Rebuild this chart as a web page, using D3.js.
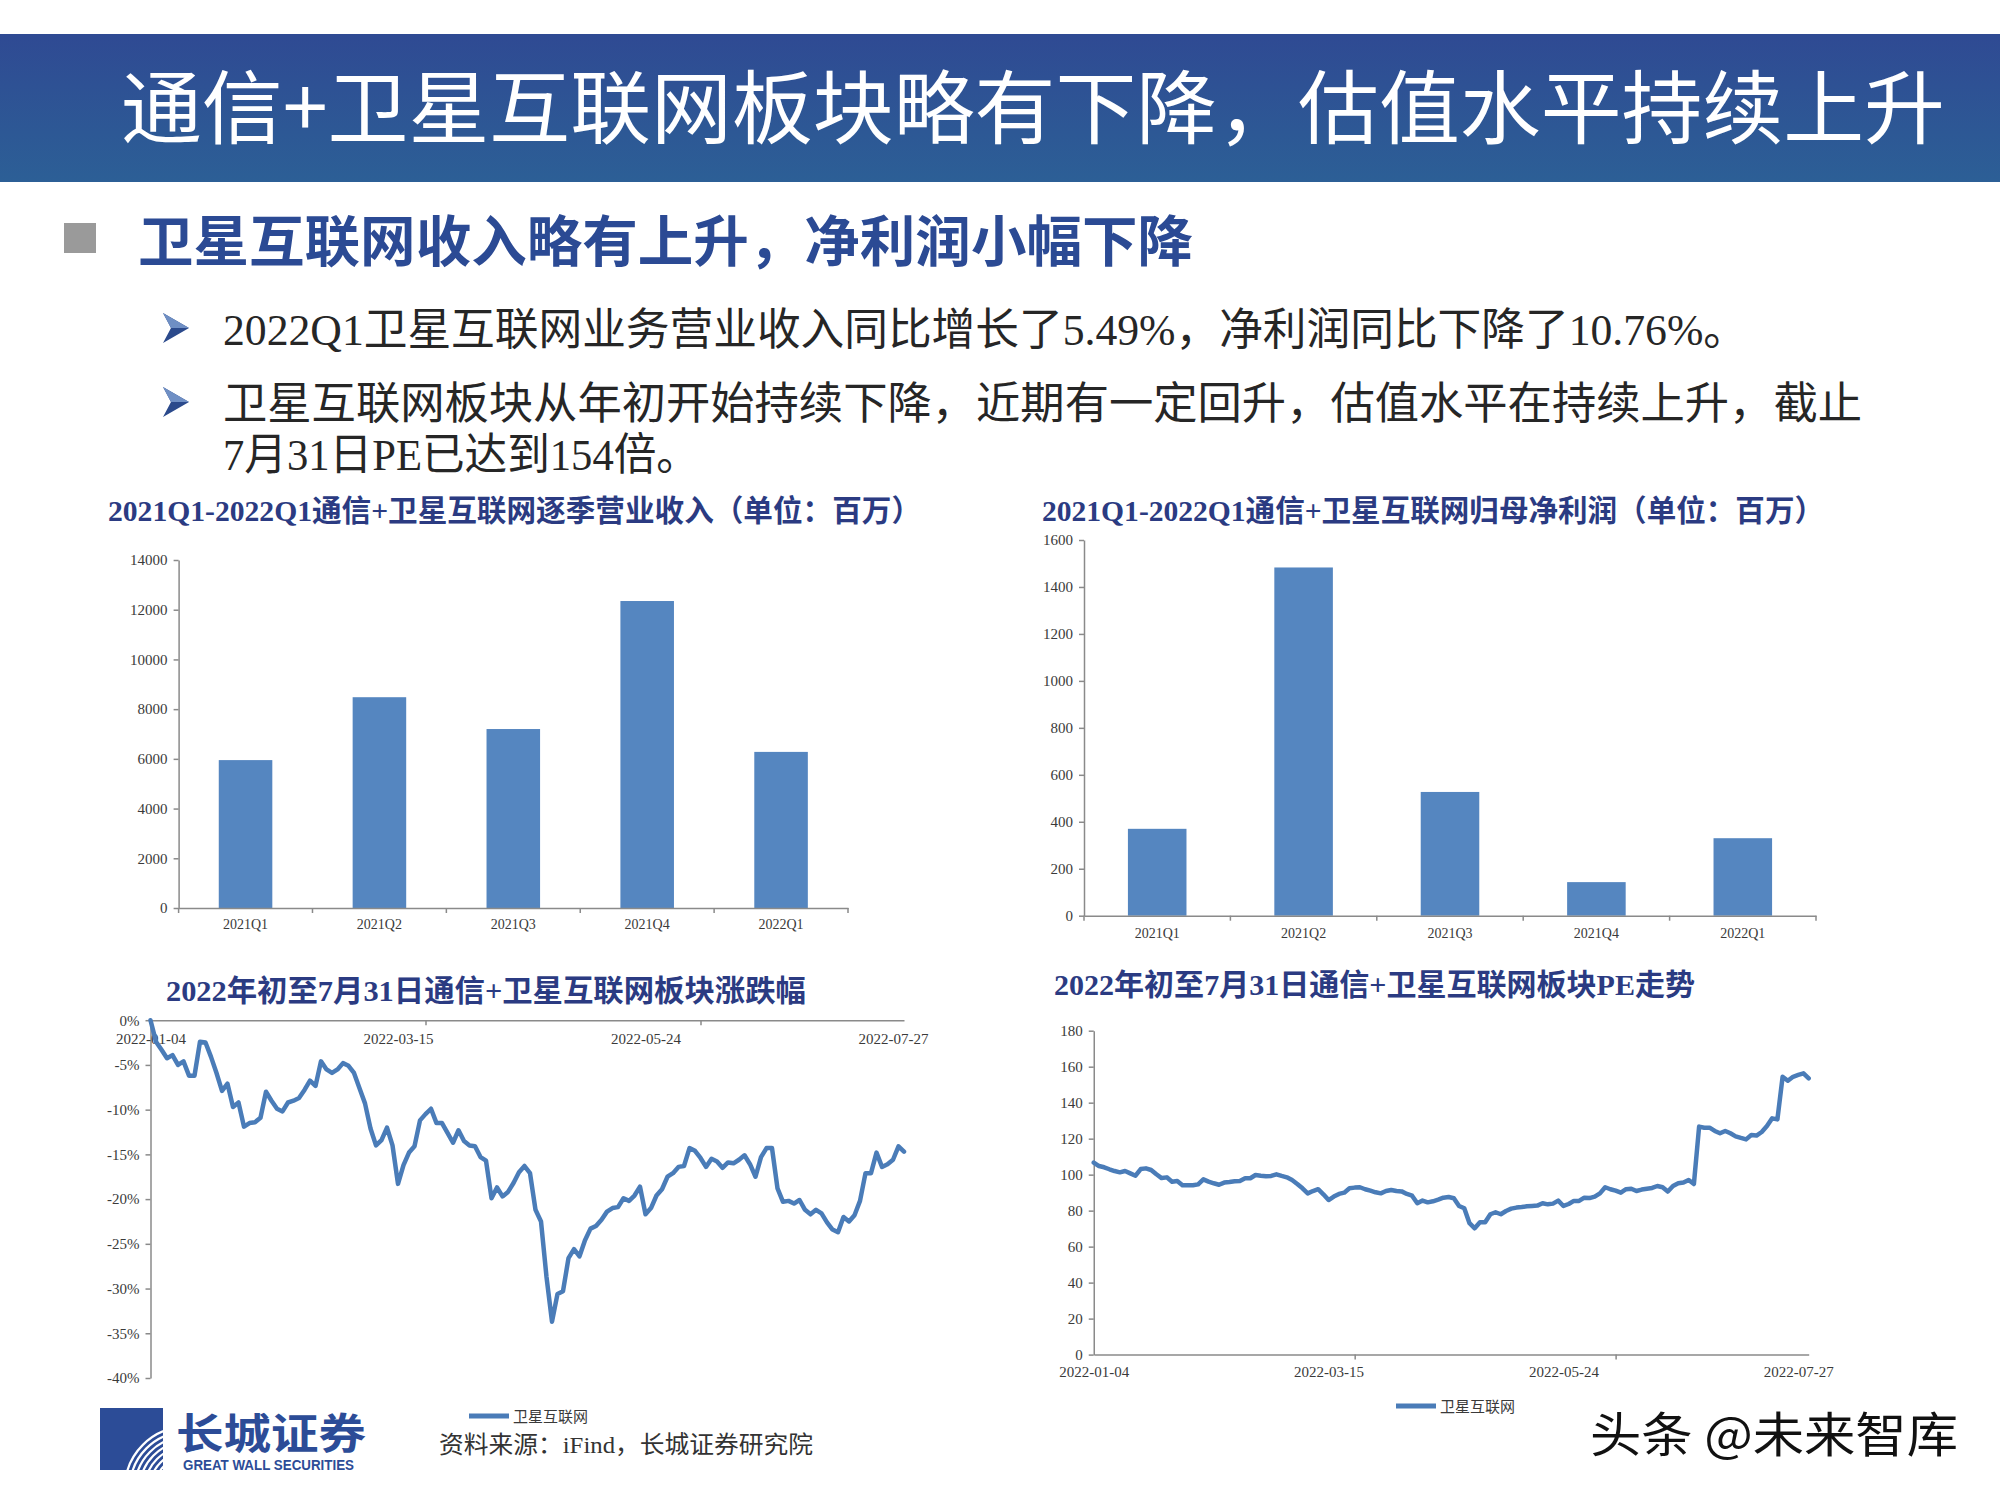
<!DOCTYPE html>
<html>
<head>
<meta charset="utf-8">
<script src="https://cdn.jsdelivr.net/npm/d3@7"></script>
<style>
body { margin: 0; background: #fff; }
</style>
</head>
<body>
<script>
// ---- data ----
const quarters = ["2021Q1", "2021Q2", "2021Q3", "2021Q4", "2022Q1"];
const revenue = [5950, 8480, 7200, 12350, 6280];      // 百万
const netProfit = [370, 1483, 527, 143, 330];         // 百万
const revenueTicks = [0, 2000, 4000, 6000, 8000, 10000, 12000, 14000];
const profitTicks = [0, 200, 400, 600, 800, 1000, 1200, 1400, 1600];

// trading-day index of the date labels on the two line charts
const dateLabels = ["2022-01-04", "2022-03-15", "2022-05-24", "2022-07-27"];
const dateLabelIdx = [0, 45, 90, 135];
const dateTickIdx = [50, 100];

// 卫星互联网 板块涨跌幅 (%), 2022-01-04 .. 2022-07-29
const changePct = [
	0, -2.4, -3.3, -4.25, -3.9, -5.0, -4.6, -6.2, -6.2, -2.4,
	-2.5, -4.1, -5.9, -7.9, -7.1, -9.7, -9.2, -11.9, -11.5, -11.4,
	-10.9, -8.0, -9.0, -9.9, -10.2, -9.2, -9.0, -8.7, -7.8, -6.75,
	-7.35, -4.6, -5.5, -5.9, -5.5, -4.8, -5.1, -5.9, -7.6, -9.3,
	-12.1, -14.0, -13.4, -12.0, -14.0, -18.3, -16.2, -14.8, -14.1, -11.2,
	-10.5, -9.9, -11.5, -11.5, -12.6, -13.7, -12.3, -13.5, -14.0, -14.1,
	-15.3, -15.7, -19.9, -18.7, -19.7, -19.2, -18.2, -17.0, -16.3, -17.1,
	-21.2, -22.5, -28.7, -33.7, -30.6, -30.3, -26.6, -25.6, -26.4, -24.6,
	-23.3, -23.0, -22.3, -21.4, -21.0, -20.9, -19.9, -20.2, -19.6, -18.6,
	-21.7, -21.0, -19.6, -18.9, -17.5, -17.1, -16.4, -16.3, -14.3, -14.6,
	-15.4, -16.4, -15.5, -15.8, -16.5, -15.9, -16.0, -15.6, -15.1, -16.1,
	-17.5, -15.3, -14.3, -14.3, -18.8, -20.3, -20.2, -20.5, -20.1, -21.2,
	-21.7, -21.2, -21.6, -22.6, -23.4, -23.7, -22.0, -22.5, -21.8, -20.2,
	-17.1, -17.1, -14.8, -16.4, -16.1, -15.6, -14.1, -14.7
];
const pctTicks = [0, -5, -10, -15, -20, -25, -30, -35, -40];

// 卫星互联网 板块PE
const peValues = [
	106.7, 104.8, 104.1, 103.0, 102.0, 101.3, 102.0, 100.7, 99.4, 103.1,
	103.5, 102.6, 100.2, 98.1, 98.5, 96.1, 96.5, 94.1, 94.1, 94.1,
	94.6, 97.4, 96.1, 95.2, 94.4, 95.6, 95.9, 96.3, 96.5, 98.0,
	98.0, 99.8, 99.4, 99.1, 99.3, 100.2, 99.3, 98.5, 97.0, 94.8,
	92.4, 89.6, 90.9, 91.9, 89.1, 85.9, 87.8, 89.3, 90.0, 92.4,
	92.8, 93.0, 91.9, 91.1, 90.2, 89.6, 90.9, 91.5, 90.9, 90.7,
	89.3, 88.3, 84.1, 85.6, 84.6, 85.2, 86.1, 87.2, 87.6, 86.9,
	82.6, 81.3, 73.0, 70.2, 73.5, 73.5, 78.0, 79.1, 78.0, 79.8,
	81.1, 81.7, 82.0, 82.4, 82.6, 82.8, 84.1, 83.5, 83.9, 85.6,
	82.6, 83.7, 85.4, 85.4, 87.2, 87.0, 87.8, 89.6, 93.0, 91.9,
	91.1, 90.0, 91.9, 92.2, 90.9, 91.7, 92.2, 92.6, 93.7, 93.0,
	90.6, 93.7, 95.2, 95.6, 97.0, 94.8, 126.7, 126.1, 126.1, 124.3,
	123.0, 124.3, 123.0, 121.3, 120.4, 119.6, 122.0, 121.7, 123.7, 127.0,
	131.3, 130.7, 154.4, 152.2, 154.4, 155.4, 156.3, 153.5
];
const peTicks = [0, 20, 40, 60, 80, 100, 120, 140, 160, 180];

const seriesName = "卫星互联网";

// ---- style ----
const navy = "#2b3b82";
const barColor = "#5586c0";
const lineColor = "#4a7cb8";
const axisColor = "#8a8a8a";
const tickFont = "'Liberation Serif', 'Noto Sans CJK SC', serif";
const titleFont = "'Liberation Serif', 'Noto Sans CJK SC', serif";
const cjk = "'Noto Sans CJK SC', sans-serif";

const svg = d3.select("body").append("svg")
	.attr("width", 2000)
	.attr("height", 1500);

const defs = svg.append("defs");
const grad = defs.append("linearGradient")
	.attr("id", "banner")
	.attr("x1", 0).attr("y1", 0).attr("x2", 0).attr("y2", 1);
grad.append("stop").attr("offset", "0%").attr("stop-color", "#2f4a93");
grad.append("stop").attr("offset", "100%").attr("stop-color", "#2c5f96");

// ---- header ----
svg.append("rect")
	.attr("x", 0).attr("y", 34).attr("width", 2000).attr("height", 148)
	.attr("fill", "url(#banner)");

svg.append("text")
	.attr("x", 121).attr("y", 137)
	.attr("textLength", 1824).attr("lengthAdjust", "spacingAndGlyphs")
	.attr("font-family", cjk).attr("font-size", 80)
	.attr("fill", "#fff")
	.text("通信+卫星互联网板块略有下降，估值水平持续上升");

svg.append("rect")
	.attr("x", 64).attr("y", 223).attr("width", 32).attr("height", 30)
	.attr("fill", "#9a9a9a");

svg.append("text")
	.attr("x", 138).attr("y", 261)
	.attr("textLength", 1055).attr("lengthAdjust", "spacingAndGlyphs")
	.attr("font-family", cjk).attr("font-size", 55).attr("font-weight", "bold")
	.attr("fill", "#2b4a94")
	.text("卫星互联网收入略有上升，净利润小幅下降");

function arrowHead(cx, cy) {
	const g = svg.append("g").attr("transform", "translate(" + cx + "," + cy + ")");
	g.append("path").attr("d", "M-13,-15 L13,0 L-13,15 L-5,0 Z").attr("fill", "#2b4a8c");
	g.append("path").attr("d", "M-13,-15 L13,0 L-5,0 Z").attr("fill", "#6f8fc4");
}
arrowHead(176, 328);
arrowHead(176, 402);

const bodyText = [
	{ x: 223, y: 345, w: 1524, t: "2022Q1卫星互联网业务营业收入同比增长了5.49%，净利润同比下降了10.76%。" },
	{ x: 223, y: 419, w: 1639, t: "卫星互联网板块从年初开始持续下降，近期有一定回升，估值水平在持续上升，截止" },
	{ x: 223, y: 470, w: 476, t: "7月31日PE已达到154倍。" }
];
bodyText.forEach(function(d) {
	svg.append("text")
		.attr("x", d.x).attr("y", d.y)
		.attr("textLength", d.w).attr("lengthAdjust", "spacingAndGlyphs")
		.attr("font-family", "'Liberation Serif', 'Noto Sans CJK SC', serif")
		.attr("font-size", 44)
		.attr("fill", "#262626")
		.text(d.t);
});

// ---- helpers ----
function chartTitle(x, y, w, t) {
	svg.append("text")
		.attr("x", x).attr("y", y)
		.attr("textLength", w).attr("lengthAdjust", "spacingAndGlyphs")
		.attr("font-family", titleFont).attr("font-size", 30).attr("font-weight", "bold")
		.attr("fill", navy)
		.text(t);
}

function styleAxis(g, fontSize) {
	g.select(".domain").attr("stroke", axisColor).attr("stroke-width", 1.5);
	g.selectAll(".tick line").attr("stroke", axisColor).attr("stroke-width", 1.5);
	g.selectAll(".tick text")
		.attr("fill", "#3a3a3a")
		.attr("font-family", tickFont)
		.attr("font-size", fontSize || 15);
}

function barChart(opts) {
	const x = d3.scaleBand()
		.domain(quarters)
		.range([opts.left, opts.right])
		.paddingInner(0.6)
		.paddingOuter(0.3);
	const y = d3.scaleLinear()
		.domain([0, d3.max(opts.ticks)])
		.range([opts.bottom, opts.top]);

	const g = svg.append("g");

	g.selectAll("rect.bar")
		.data(opts.values)
		.join("rect")
		.attr("class", "bar")
		.attr("x", function(d, i) { return x(quarters[i]); })
		.attr("width", x.bandwidth())
		.attr("y", function(d) { return y(d); })
		.attr("height", function(d) { return y(0) - y(d); })
		.attr("fill", barColor);

	const yAxis = g.append("g")
		.attr("transform", "translate(" + opts.left + ",0)")
		.call(d3.axisLeft(y).tickValues(opts.ticks).tickFormat(d3.format("d"))
			.tickSize(5).tickSizeOuter(0).tickPadding(6));
	styleAxis(yAxis);

	const xAxis = g.append("g")
		.attr("transform", "translate(0," + opts.bottom + ")")
		.call(d3.axisBottom(x).tickSize(0).tickSizeOuter(0).tickPadding(opts.pad));
	styleAxis(xAxis, 14);

	// category boundary ticks
	const bounds = quarters.map(function(c) { return x(c) - x.step() * x.paddingOuter(); })
		.concat([x.range()[1]]);
	g.selectAll("line.bound")
		.data(bounds)
		.join("line")
		.attr("class", "bound")
		.attr("x1", function(d) { return d; }).attr("x2", function(d) { return d; })
		.attr("y1", opts.bottom).attr("y2", opts.bottom + 5)
		.attr("stroke", axisColor).attr("stroke-width", 1.5);
}

function lineChart(opts) {
	const n = opts.values.length;
	const x = d3.scaleLinear()
		.domain([0, n - 1])
		.range([opts.left, opts.right]);
	const y = d3.scaleLinear()
		.domain(opts.domain)
		.range([opts.bottom, opts.top]);

	const g = svg.append("g");
	const axisY = y(opts.axisAt);

	const yAxis = g.append("g")
		.attr("transform", "translate(" + opts.left + ",0)")
		.call(d3.axisLeft(y).tickValues(opts.ticks).tickFormat(opts.fmt)
			.tickSize(5).tickSizeOuter(0).tickPadding(6));
	styleAxis(yAxis);

	const xAxis = g.append("g")
		.attr("transform", "translate(0," + axisY + ")")
		.call(d3.axisBottom(x).tickValues(dateTickIdx).tickFormat("")
			.tickSize(5).tickSizeOuter(0));
	styleAxis(xAxis);

	const xLabels = g.append("g")
		.attr("transform", "translate(0," + axisY + ")")
		.call(d3.axisBottom(x).tickValues(dateLabelIdx)
			.tickFormat(function(d, i) { return dateLabels[i]; })
			.tickSize(0).tickPadding(opts.pad));
	xLabels.select(".domain").remove();
	styleAxis(xLabels);

	const line = d3.line()
		.x(function(d, i) { return x(i); })
		.y(function(d) { return y(d); });

	g.append("path")
		.datum(opts.values)
		.attr("d", line)
		.attr("fill", "none")
		.attr("stroke", lineColor)
		.attr("stroke-width", 4.5)
		.attr("stroke-linejoin", "round")
		.attr("stroke-linecap", "round");

	// legend
	g.append("line")
		.attr("x1", opts.legendX).attr("x2", opts.legendX + 40)
		.attr("y1", opts.legendY).attr("y2", opts.legendY)
		.attr("stroke", lineColor).attr("stroke-width", 5);
	g.append("text")
		.attr("x", opts.legendX + 44).attr("y", opts.legendY + 6)
		.attr("font-family", tickFont).attr("font-size", 15)
		.attr("fill", "#3a3a3a")
		.text(seriesName);
}

// ---- charts ----
chartTitle(108, 521, 813, "2021Q1-2022Q1通信+卫星互联网逐季营业收入（单位：百万）");
barChart({ values: revenue, ticks: revenueTicks, left: 178.6, right: 848, top: 560, bottom: 908, pad: 11 });

chartTitle(1042, 521, 782, "2021Q1-2022Q1通信+卫星互联网归母净利润（单位：百万）");
barChart({ values: netProfit, ticks: profitTicks, left: 1084, right: 1816, top: 540, bottom: 915.7, pad: 12 });

chartTitle(166, 1001, 640, "2022年初至7月31日通信+卫星互联网板块涨跌幅");
lineChart({
	values: changePct, ticks: pctTicks, domain: [-40, 0], axisAt: 0,
	fmt: function(d) { return d + "%"; },
	left: 150.5, right: 904, top: 1020.2, bottom: 1378, pad: 13,
	legendX: 469, legendY: 1416
});

chartTitle(1054, 995, 641, "2022年初至7月31日通信+卫星互联网板块PE走势");
lineChart({
	values: peValues, ticks: peTicks, domain: [0, 180], axisAt: 0,
	fmt: d3.format("d"),
	left: 1093.75, right: 1808.7, top: 1030.7, bottom: 1354.6, pad: 12,
	legendX: 1396, legendY: 1406
});

// ---- footer ----
const logo = svg.append("g");
defs.append("clipPath").attr("id", "logo-clip")
	.append("rect").attr("x", 100).attr("y", 1408).attr("width", 63).attr("height", 62);
logo.append("rect")
	.attr("x", 100).attr("y", 1408).attr("width", 63).attr("height", 62)
	.attr("fill", "#2c4c97");
const arcs = logo.append("g").attr("clip-path", "url(#logo-clip)");
[26, 31, 36, 41, 46, 51, 56, 61].forEach(function(r) {
	arcs.append("circle")
		.attr("cx", 186).attr("cy", 1488).attr("r", r)
		.attr("fill", "none").attr("stroke", "#fff").attr("stroke-width", 2.2);
});
logo.append("text")
	.attr("x", 176).attr("y", 1449)
	.attr("textLength", 190).attr("lengthAdjust", "spacingAndGlyphs")
	.attr("font-family", cjk).attr("font-size", 42).attr("font-weight", "bold")
	.attr("fill", "#2c4c97")
	.text("长城证券");
logo.append("text")
	.attr("x", 183).attr("y", 1470)
	.attr("textLength", 171).attr("lengthAdjust", "spacingAndGlyphs")
	.attr("font-family", "'Liberation Sans', sans-serif").attr("font-size", 14).attr("font-weight", "bold")
	.attr("fill", "#2c4c97")
	.text("GREAT WALL SECURITIES");

svg.append("text")
	.attr("x", 439).attr("y", 1453)
	.attr("textLength", 374).attr("lengthAdjust", "spacingAndGlyphs")
	.attr("font-family", "'Liberation Serif', 'Noto Sans CJK SC', serif")
	.attr("font-size", 24)
	.attr("fill", "#333")
	.text("资料来源：iFind，长城证券研究院");

svg.append("text")
	.attr("x", 1590).attr("y", 1452)
	.attr("textLength", 368).attr("lengthAdjust", "spacingAndGlyphs")
	.attr("font-family", cjk).attr("font-size", 48)
	.attr("fill", "#111")
	.attr("stroke", "#fff").attr("stroke-width", 3)
	.attr("paint-order", "stroke")
	.text("头条 @未来智库");
</script>
</body>
</html>
